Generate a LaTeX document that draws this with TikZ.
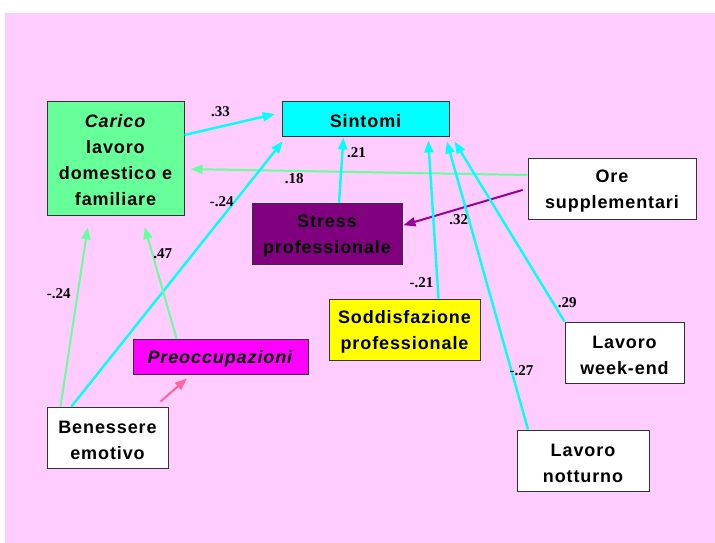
\documentclass[tikz,border=0pt]{standalone}
\usepackage{fontspec}
\setmainfont{Liberation Sans}
\newfontfamily\boxfont{Liberation Sans}[LetterSpace=5]
\newfontfamily\coeffont{Liberation Serif}
\usetikzlibrary{arrows.meta}

\definecolor{bgpink}{RGB}{255,204,255}
\definecolor{carico}{RGB}{102,255,153}
\definecolor{sintomi}{RGB}{0,255,255}
\definecolor{stress}{RGB}{128,0,128}
\definecolor{soddisf}{RGB}{255,255,0}
\definecolor{preocc}{RGB}{255,0,255}
\definecolor{purplearrow}{RGB}{153,0,153}
\definecolor{pinkarrow}{RGB}{255,102,153}

\newcommand{\boxstrut}{\rule{0pt}{18pt}}

\tikzset{
  box/.style={draw=black!80, line width=1pt, align=center, inner sep=0pt,
    font=\boxfont\bfseries\fontsize{18}{26}\selectfont},
  coef/.style={font=\coeffont\bfseries\fontsize{15}{15}\selectfont, inner sep=1pt},
  tip/.style={-{Triangle[length=12pt,width=9pt]}},
  cyanlink/.style={tip, draw=sintomi, fill=sintomi, line width=2.4pt},
  greenlink/.style={tip, draw=carico, fill=carico, line width=2pt},
  purplelink/.style={tip, draw=purplearrow, fill=purplearrow, line width=2pt},
  pinklink/.style={tip, draw=pinkarrow, fill=pinkarrow, line width=2pt}
}

\begin{document}
\begin{tikzpicture}[x=1pt, y=-1pt]
  \useasboundingbox (0,0) rectangle (715,543);
  \fill[white] (0,0) rectangle (715,543);
  \fill[bgpink] (5,13) rectangle (715,543);

  % boxes
  \node[box, fill=carico, minimum width=137, minimum height=114] (carico) at (115.5,158) {\boxstrut\textit{Carico}\\lavoro\\domestico e\\familiare};
  \node[box, fill=sintomi, minimum width=167, minimum height=35] (sintomi) at (365.5,118.5) {\boxstrut Sintomi};
  \node[box, fill=stress, minimum width=150, minimum height=61] (stress) at (327,233.5) {\boxstrut Stress\\professionale};
  \node[box, fill=white, minimum width=168, minimum height=61] (ore) at (612,188.5) {\boxstrut Ore\\supplementari};
  \node[box, fill=soddisf, minimum width=151, minimum height=61] (soddisf) at (404.5,329.5) {\boxstrut Soddisfazione\\professionale};
  \node[box, fill=preocc, minimum width=175, minimum height=35] (preocc) at (220.5,356.5) {\boxstrut\textit{Preoccupazioni}};
  \node[box, fill=white, minimum width=121, minimum height=61] (benessere) at (107.5,437.5) {\boxstrut Benessere\\emotivo};
  \node[box, fill=white, minimum width=119, minimum height=61] (weekend) at (624.5,352.5) {\boxstrut Lavoro\\week-end};
  \node[box, fill=white, minimum width=132, minimum height=61] (notturno) at (583,460.5) {\boxstrut Lavoro\\notturno};

  % paths
  \draw[cyanlink, shorten >=7pt] ([yshift=23pt]carico.east) -- node[coef, pos=0.37, above=8pt] {.33} ([yshift=6pt]sintomi.west);
  \draw[greenlink, shorten >=6pt] ([yshift=13.5pt]ore.west) -- node[coef, pos=0.68, below=1pt] {.18} ([yshift=-11pt]carico.east);
  \draw[cyanlink, shorten >=1pt] ([xshift=12pt]stress.north) -- node[coef, pos=0.76, right=2.5pt] {.21} ([xshift=-22pt]sintomi.south);
  \draw[purplelink, shorten <=5pt, shorten >=1pt] (ore.west) -- node[coef, pos=0.55, below=4pt] {.32} ([yshift=8pt]stress.east);
  \draw[cyanlink, shorten >=4pt] ([xshift=34pt]soddisf.north) -- node[coef, pos=0.1, left=2pt] {-.21} ([xshift=62.5pt]sintomi.south);
  \draw[cyanlink, shorten >=5pt] ([xshift=-55pt]notturno.north) -- node[coef, pos=0.2, xshift=10pt] {-.27} ([xshift=80pt]sintomi.south);
  \draw[cyanlink, shorten >=6pt] (weekend.north west) -- node[coef, pos=0.1, right=2.5pt] {.29} ([xshift=86pt]sintomi.south);
  \draw[cyanlink, shorten >=6pt] ([xshift=25pt]benessere.north west) -- node[coef, pos=0.76, left=-1pt] {-.24} ([xshift=5pt]sintomi.south west);
  \draw[greenlink, shorten >=12pt] ([xshift=14pt]benessere.north west) -- node[coef, pos=0.59, left=5pt] {-.24} ([xshift=43pt]carico.south west);
  \draw[greenlink, shorten >=12pt] ([xshift=44pt]preocc.north west) -- node[coef, pos=0.69, right=-1pt] {.47} ([xshift=26pt]carico.south);
  \draw[pinklink] ([xshift=-8pt,yshift=5pt]benessere.north east) -- ([xshift=-33.5pt,yshift=-4pt]preocc.south);
\end{tikzpicture}
\end{document}
